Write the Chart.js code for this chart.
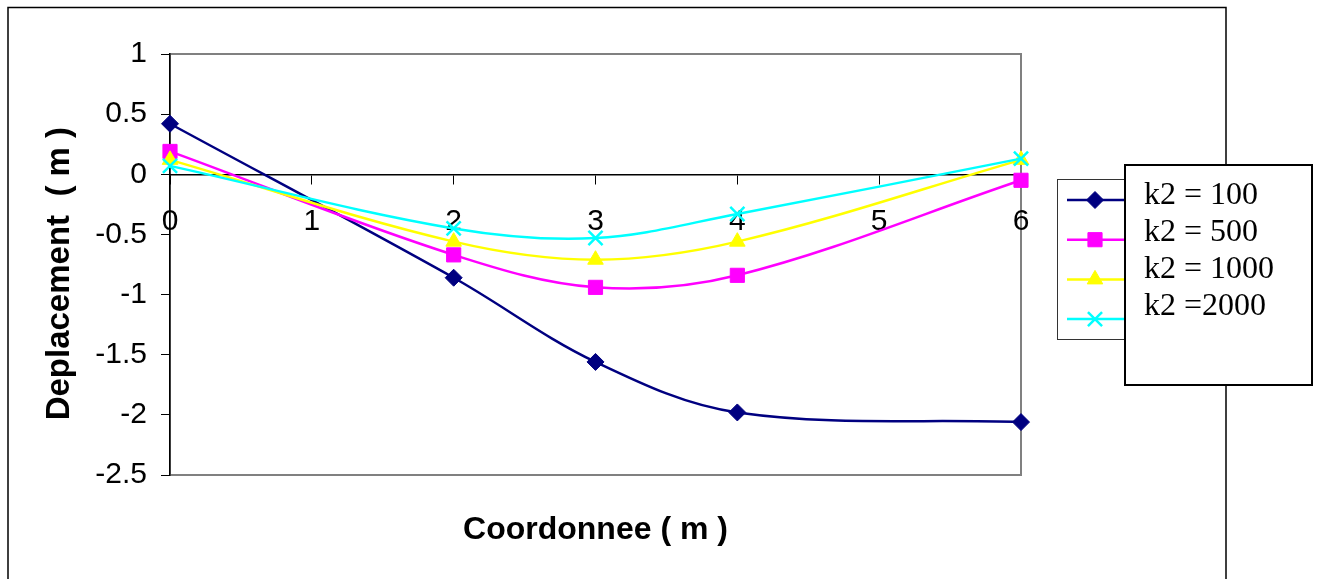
<!DOCTYPE html>
<html>
<head>
<meta charset="utf-8">
<script src="https://cdn.jsdelivr.net/npm/chart.js@4"></script>
<style>
  body { margin: 0; background: #fff; }
  #wrap { width: 1319px; height: 579px; }
</style>
</head>
<body>
<div id="wrap"><canvas id="lineChart" width="1319" height="579"></canvas></div>
<script>
// data
var coords = [0, 2, 3, 4, 6];
var k100 = [0.42, -0.86, -1.56, -1.98, -2.06];
var k500 = [0.19, -0.67, -0.94, -0.84, -0.05];
var k1000 = [0.12, -0.56, -0.71, -0.56, 0.12];
var k2000 = [0.07, -0.45, -0.53, -0.33, 0.13];
var seriesLabels = ['k2 = 100', 'k2 = 500', 'k2 = 1000', 'k2 =2000'];
var yTicks = [1, 0.5, 0, -0.5, -1, -1.5, -2, -2.5];
var xTicks = [0, 1, 2, 3, 4, 5, 6];

var arial = 'Arial, "Liberation Sans", sans-serif';

function toPoints(values) {
  return coords.map(function (c, i) { return { x: c, y: values[i] }; });
}

function makeSet(label, values, color, style, radius, order) {
  return {
    label: label,
    data: toPoints(values),
    borderColor: color,
    backgroundColor: color,
    pointBackgroundColor: color,
    pointBorderColor: color,
    borderWidth: 2.5,
    pointStyle: style,
    pointRadius: radius,
    pointHoverRadius: radius,
    pointBorderWidth: style === 'crossRot' ? 2.5 : 1,
    tension: 0.35,
    clip: false,
    order: order
  };
}

// frame, plot border and the overlapping legend / text box
var decorPlugin = {
  id: 'decor',
  beforeDraw: function (chart) {
    var ctx = chart.ctx, a = chart.chartArea;
    ctx.save();
    ctx.strokeStyle = '#000';
    ctx.lineWidth = 1.5;
    ctx.beginPath();
    ctx.moveTo(8, 600);
    ctx.lineTo(8, 7.5);
    ctx.lineTo(1226, 7.5);
    ctx.lineTo(1226, 600);
    ctx.stroke();
    ctx.strokeStyle = '#808080';
    ctx.lineWidth = 2;
    ctx.strokeRect(a.left, a.top, a.right - a.left, a.bottom - a.top);
    ctx.restore();
  },
  afterDraw: function (chart) {
    var ctx = chart.ctx;
    var sets = chart.data.datasets;
    ctx.save();
    // legend box
    ctx.fillStyle = '#fff';
    ctx.fillRect(1057, 179, 170, 160);
    ctx.strokeStyle = '#333';
    ctx.lineWidth = 1;
    ctx.strokeRect(1057.5, 179.5, 170, 160);
    sets.forEach(function (ds, i) {
      var y = 200 + i * 39.7;
      ctx.strokeStyle = ds.borderColor;
      ctx.lineWidth = ds.borderWidth;
      ctx.beginPath();
      ctx.moveTo(1067, y);
      ctx.lineTo(1125, y);
      ctx.stroke();
      ctx.fillStyle = ds.pointBackgroundColor;
      ctx.strokeStyle = ds.pointBorderColor;
      ctx.lineWidth = ds.pointBorderWidth;
      Chart.helpers.drawPoint(ctx, { pointStyle: ds.pointStyle, radius: ds.pointRadius, rotation: 0, borderWidth: ds.pointBorderWidth }, 1095, y);
    });
    // text box laid over the legend
    ctx.fillStyle = '#fff';
    ctx.fillRect(1125, 165, 187, 220);
    ctx.strokeStyle = '#000';
    ctx.lineWidth = 2;
    ctx.strokeRect(1125, 165, 187, 220);
    ctx.fillStyle = '#000';
    ctx.font = '32px "Times New Roman", "Liberation Serif", serif';
    ctx.textBaseline = 'middle';
    ctx.textAlign = 'left';
    sets.forEach(function (ds, i) {
      ctx.fillText(ds.label, 1144, 196 + i * 36.7);
    });
    ctx.restore();
  }
};

var ctx = document.getElementById('lineChart').getContext('2d');
var chart = new Chart(ctx, {
  type: 'line',
  data: {
    datasets: [
      makeSet(seriesLabels[0], k100, '#000080', 'rectRot', 8.5, 4),
      makeSet(seriesLabels[1], k500, '#ff00ff', 'rect', 10, 3),
      makeSet(seriesLabels[2], k1000, '#ffff00', 'triangle', 9, 2),
      makeSet(seriesLabels[3], k2000, '#00ffff', 'crossRot', 10, 1)
    ]
  },
  plugins: [decorPlugin],
  options: {
    responsive: false,
    animation: false,
    devicePixelRatio: 1,
    layout: { padding: { left: 0, top: 54, right: 298, bottom: 0 } },
    plugins: {
      legend: { display: false },
      tooltip: { enabled: false }
    },
    scales: {
      x: {
        type: 'linear',
        position: { y: 0 },
        min: 0,
        max: 6,
        afterFit: function (s) { s.height = 0; },
        afterBuildTicks: function (s) { s.ticks = xTicks.map(function (v) { return { value: v }; }); },
        ticks: {
          color: '#000',
          font: { family: arial, size: 30 },
          padding: 20,
          maxRotation: 0,
          callback: function (v) { return String(v); }
        },
        grid: { drawOnChartArea: false, drawTicks: true, tickLength: 9, color: '#000', lineWidth: 1 },
        border: { display: true, color: '#000', width: 1.5 }
      },
      x2: {
        type: 'linear',
        position: 'bottom',
        axis: 'x',
        min: 0,
        max: 6,
        afterFit: function (s) { s.height = 104; },
        ticks: { display: false },
        grid: { display: false },
        border: { display: false },
        title: {
          display: true,
          text: 'Coordonnee ( m )',
          color: '#000',
          font: { family: arial, size: 32, weight: 'bold' },
          padding: { top: 0, bottom: 30 }
        }
      },
      y: {
        type: 'linear',
        min: -2.5,
        max: 1,
        afterFit: function (s) { s.width = 170; },
        afterBuildTicks: function (s) { s.ticks = yTicks.map(function (v) { return { value: v }; }); },
        ticks: {
          color: '#000',
          font: { family: arial, size: 30 },
          padding: 14,
          callback: function (v) { return String(v); }
        },
        grid: { drawOnChartArea: false, drawTicks: true, tickLength: 9, color: '#000', lineWidth: 1 },
        border: { display: true, color: '#000', width: 1.5 },
        title: {
          display: true,
          text: 'Deplacement  ( m )  ',
          color: '#000',
          font: { family: arial, size: 33, weight: 'bold' },
          padding: { top: 40, bottom: 0 }
        }
      }
    }
  }
});
</script>
</body>
</html>
